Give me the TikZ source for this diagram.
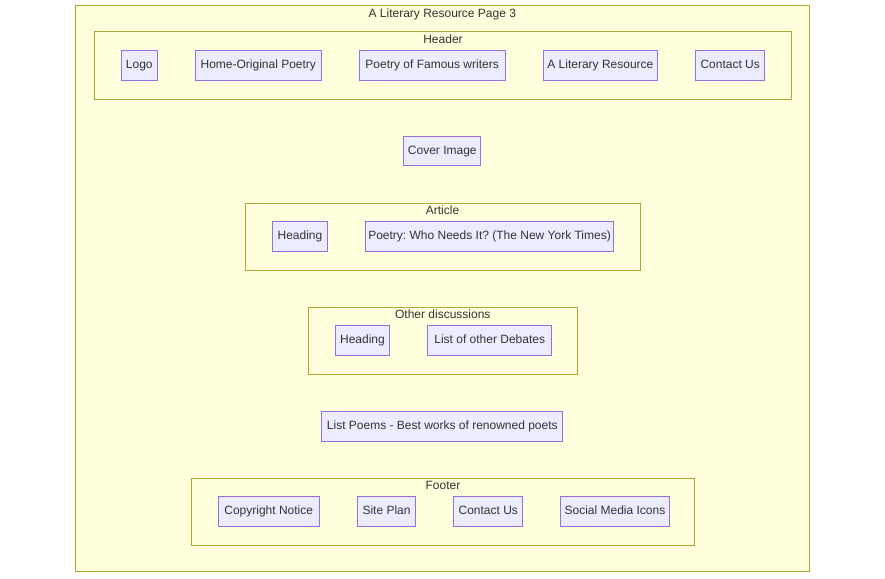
\documentclass[tikz,border=0pt]{standalone}
\usepackage{fontspec}
\setmainfont{Liberation Sans}
\usetikzlibrary{positioning}
\frenchspacing

\definecolor{clfill}{HTML}{FFFFDE}
\definecolor{cldraw}{HTML}{AAAA33}
\definecolor{ndfill}{HTML}{ECECFF}
\definecolor{nddraw}{HTML}{9370DB}
\definecolor{txt}{HTML}{333333}

\tikzstyle{cluster} = [rectangle, draw=cldraw, fill=clfill, line width=1pt, inner sep=0pt]
\tikzstyle{ctitle} = [text=txt, inner sep=0pt, text height=8.6pt, text depth=2.6pt, font=\fontsize{12}{14}\selectfont]
\tikzstyle{block} = [rectangle, draw=nddraw, fill=ndfill, line width=1pt, minimum height=29.5pt, inner xsep=3pt, text height=8.6pt, text depth=2.6pt, text=txt, font=\fontsize{12}{14}\selectfont]

\begin{document}
\begin{tikzpicture}[x=1pt, y=-1pt, node distance=37pt]
\useasboundingbox [fill=white] (0,0) rectangle (885,578);

% Page
\node (page) [cluster, minimum width=734pt, minimum height=565.3pt] at (442.3,288.35) {};
\node (paget) [ctitle] at ([yshift=-9pt]page.north) {A Literary Resource Page 3};

% Header
\node (hdr) [cluster, minimum width=697.4pt, minimum height=67.3pt] at (443,65.35) {};
\node (hdrt) [ctitle] at ([yshift=-9.6pt]hdr.north) {Header};
\node (logo) [block, anchor=west, minimum width=36pt] at (120.8,65.35) {Logo};
\node (home) [block, right=of logo, minimum width=126pt] {Home-Original Poetry};
\node (famous) [block, right=of home, minimum width=145.7pt] {Poetry of Famous writers};
\node (litres) [block, right=of famous, minimum width=114.7pt] {A Literary Resource};
\node (hcontact) [block, right=of litres, minimum width=69pt] {Contact Us};

% Cover
\node (cover) [block, minimum width=77pt] at (442.3,151) {Cover Image};

% Article
\node (art) [cluster, minimum width=395pt, minimum height=66.7pt] at (442.5,236.65) {};
\node (artt) [ctitle] at ([yshift=-8.8pt]art.north) {Article};
\node (arthead) [block, anchor=west, minimum width=54.6pt] at (272.2,236.7) {Heading};
\node (nyt) [block, right=of arthead, minimum width=248.4pt] {Poetry: Who Needs It? (The New York Times)};

% Other discussions
\node (oth) [cluster, minimum width=269pt, minimum height=66.7pt] at (442.8,340.65) {};
\node (otht) [ctitle] at ([yshift=-9pt]oth.north) {Other discussions};
\node (othhead) [block, anchor=west, minimum width=54.4pt] at (334.8,340.65) {Heading};
\node (debates) [block, right=of othhead, minimum width=124pt] {List of other Debates};

% Poems
\node (poems) [block, minimum width=241pt] at (442.3,426.7) {List Poems - Best works of renowned poets};

% Footer
\node (ftr) [cluster, minimum width=503.5pt, minimum height=67.4pt] at (442.95,512) {};
\node (ftrt) [ctitle] at ([yshift=-9pt]ftr.north) {Footer};
\node (copy) [block, anchor=west, minimum width=101.1pt] at (217.7,511.5) {Copyright Notice};
\node (plan) [block, right=of copy, minimum width=58.5pt] {Site Plan};
\node (fcontact) [block, right=of plan, minimum width=69pt] {Contact Us};
\node (social) [block, right=of fcontact, minimum width=108.3pt] {Social Media Icons};
\end{tikzpicture}
\end{document}
